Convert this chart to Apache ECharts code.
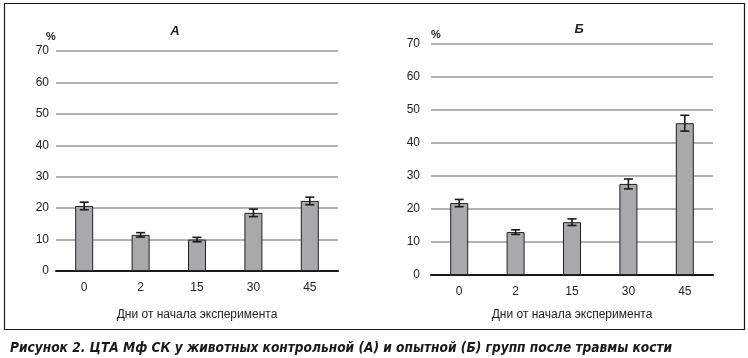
<!DOCTYPE html>
<html><head><meta charset="utf-8">
<script src="https://cdn.jsdelivr.net/npm/echarts@6/dist/echarts.min.js"></script>
<style>html,body{margin:0;padding:0;background:#fff}#c{width:748px;height:358px}</style>
</head><body><div id="c"></div>
<script>
const categories = ['0', '2', '15', '30', '45'];
const valuesA = [20.7, 11.5, 10.0, 18.5, 22.3];
const errA = [1.2, 0.7, 0.7, 1.2, 1.2];
const valuesB = [21.8, 13.0, 16.0, 27.6, 46.0];
const errB = [1.1, 0.7, 1.0, 1.5, 2.4];
const yTicks = [0, 10, 20, 30, 40, 50, 60, 70];
const titleA = 'А', titleB = 'Б';
const xName = 'Дни от начала эксперимента';
const caption = 'Рисунок 2. ЦТА Мф СК у животных контрольной (А) и опытной (Б) групп после травмы кости';

const font = "'Liberation Sans', Arial, sans-serif";
const chart = echarts.init(document.getElementById('c'), null, {renderer: 'canvas'});

function errSeries(idx, vals, errs) {
  return {
    type: 'custom', xAxisIndex: idx, yAxisIndex: idx, z: 5,
    data: vals.map((v, i) => [i, v - errs[i], v + errs[i]]),
    renderItem: function (params, api) {
      const lo = api.coord([api.value(0), api.value(1)]);
      const hi = api.coord([api.value(0), api.value(2)]);
      const w = 4.5;
      const st = {stroke: '#1a1a1a', lineWidth: 1.6};
      return {type: 'group', children: [
        {type: 'line', shape: {x1: hi[0], y1: hi[1], x2: lo[0], y2: lo[1]}, style: st},
        {type: 'line', shape: {x1: hi[0]-w, y1: hi[1], x2: hi[0]+w, y2: hi[1]}, style: st},
        {type: 'line', shape: {x1: lo[0]-w, y1: lo[1], x2: lo[0]+w, y2: lo[1]}, style: st}
      ]};
    }
  };
}

function xAx(idx, gap) {
  return {
    type: 'category', gridIndex: idx, data: categories,
    axisLine: {lineStyle: {color: '#1a1a1a', width: 2}},
    axisTick: {show: false},
    axisLabel: {color: '#222', fontSize: 12, fontFamily: font, margin: 11},
    name: xName, nameLocation: 'middle', nameGap: gap,
    nameTextStyle: {color: '#222', fontSize: 12, fontFamily: font}
  };
}
function yAx(idx, margin) {
  return {
    type: 'value', gridIndex: idx, min: yTicks[0], max: yTicks[yTicks.length-1], interval: 10,
    axisLine: {show: false}, axisTick: {show: false},
    axisLabel: {color: '#222', fontSize: 12, fontFamily: font, margin: margin},
    splitLine: {lineStyle: {color: '#9a9a9a', width: 1.5}}
  };
}
function barS(idx, vals) {
  return {
    type: 'bar', xAxisIndex: idx, yAxisIndex: idx, data: vals, barWidth: 18,
    itemStyle: {color: '#a8a9ac', borderColor: '#222', borderWidth: 1}
  };
}

chart.setOption({
  animation: false,
  title: [
    {text: titleA, left: 170, top: 20, textAlign: 'center', textStyle: {fontSize: 13, fontWeight: 'bold', fontStyle: 'italic', color: '#222', fontFamily: font}},
    {text: titleB, left: 574, top: 18, textAlign: 'center', textStyle: {fontSize: 13, fontWeight: 'bold', fontStyle: 'italic', color: '#222', fontFamily: font}},
    {text: caption, left: 5, top: 336, textStyle: {fontSize: 13.6, fontWeight: 'bold', fontStyle: 'italic', color: '#1a1a1a', fontFamily: "'Liberation Sans Narrow', 'Arial Narrow', 'DejaVu Sans Condensed', sans-serif"}}
  ],
  graphic: [
    {type: 'rect', shape: {x: 4.5, y: 3.5, width: 740, height: 326}, style: {fill: 'none', stroke: '#1a1a1a', lineWidth: 1.2}, z: -1},
    {type: 'text', left: 46, top: 31, style: {text: '%', fontSize: 11, fontWeight: 'bold', fill: '#222', fontFamily: font}},
    {type: 'text', left: 431, top: 29, style: {text: '%', fontSize: 11, fontWeight: 'bold', fill: '#222', fontFamily: font}}
  ],
  grid: [
    {left: 56, top: 51, width: 282, height: 220},
    {left: 431, top: 44, width: 282, height: 231}
  ],
  xAxis: [xAx(0, 38), xAx(1, 34)],
  yAxis: [yAx(0, 7), yAx(1, 11)],
  series: [barS(0, valuesA), errSeries(0, valuesA, errA), barS(1, valuesB), errSeries(1, valuesB, errB)]
});
</script></body></html>
